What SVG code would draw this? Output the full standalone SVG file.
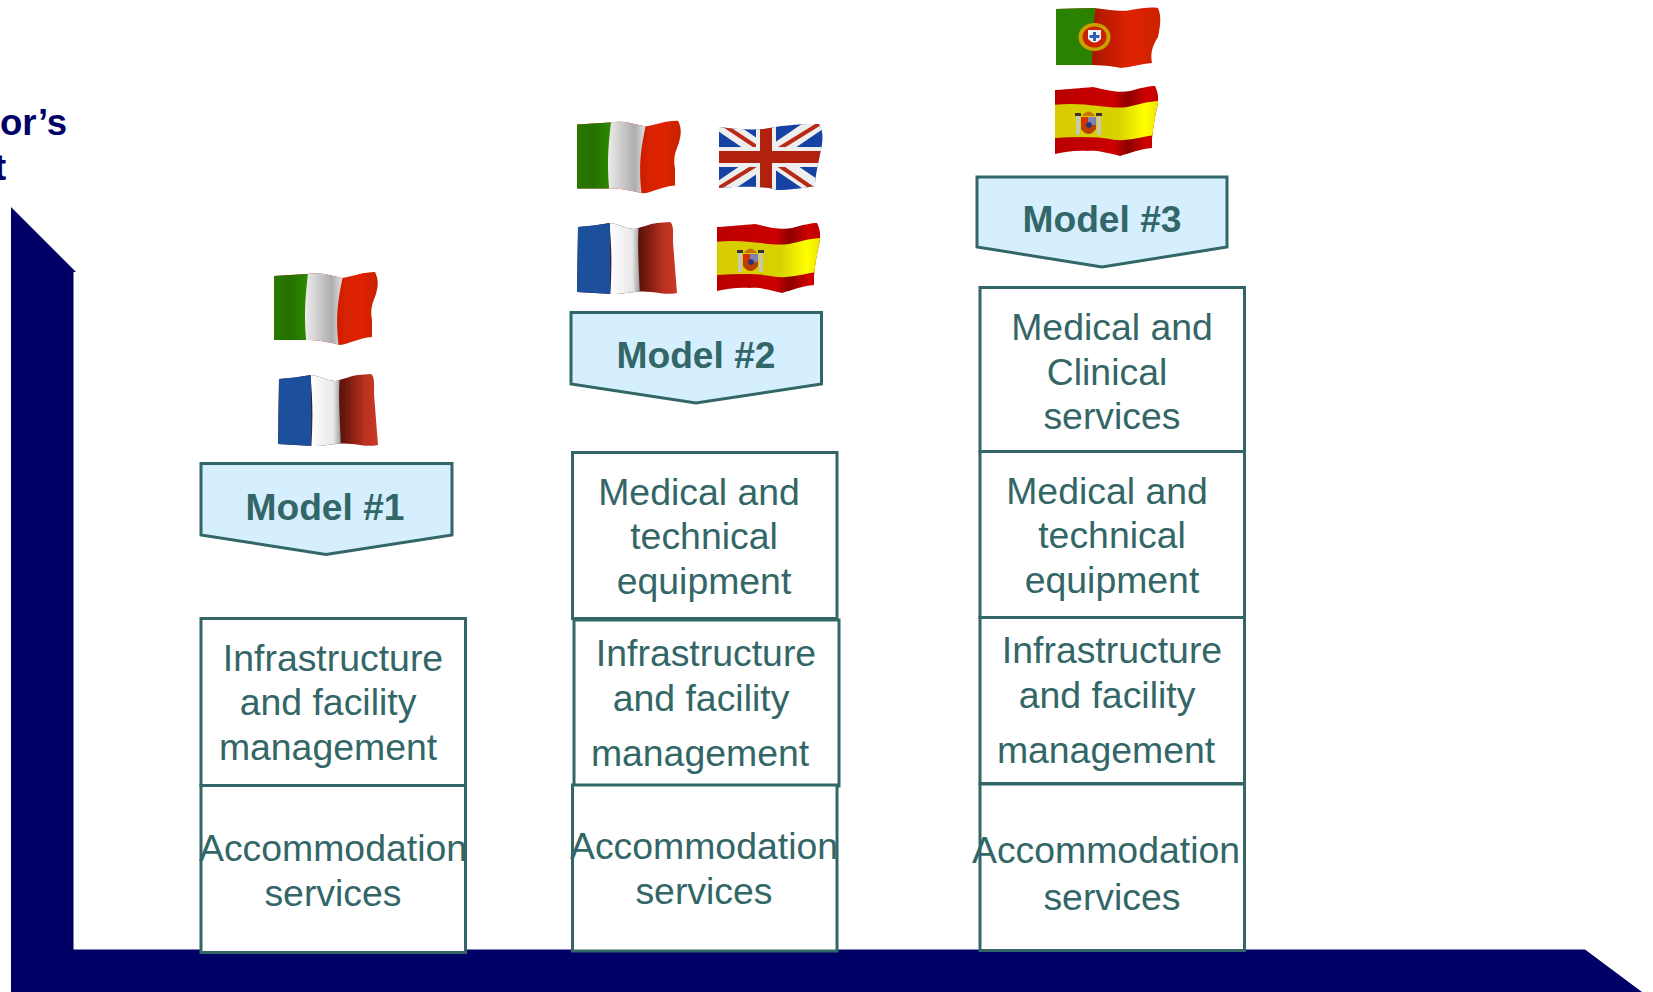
<svg xmlns="http://www.w3.org/2000/svg" width="1653" height="992" viewBox="0 0 1653 992">
<style>
text{font-family:"Liberation Sans",Arial,sans-serif}
.t{font-size:37.4px;fill:#336666;text-anchor:middle}
.m{font-size:37.2px;font-weight:bold;fill:#336666;text-anchor:middle}
.a{font-size:36.6px;font-weight:bold;fill:#000066}
.b{fill:#fff;stroke:#336666;stroke-width:3}
.p{fill:#D5EFFF;stroke:#336666;stroke-width:3}
</style>
<defs>
<filter id="soft" x="-5%" y="-5%" width="110%" height="110%"><feGaussianBlur stdDeviation="0.6"/></filter>
<linearGradient id="gG"><stop offset="0" stop-color="#2a7a00"/><stop offset=".5" stop-color="#257000"/><stop offset="1" stop-color="#2f8a00"/></linearGradient>
<linearGradient id="gW"><stop offset="0" stop-color="#f0f0f0"/><stop offset=".7" stop-color="#adadad"/><stop offset="1" stop-color="#e8e8e8"/></linearGradient>
<linearGradient id="gR"><stop offset=".6" stop-color="#d01f00"/><stop offset=".8" stop-color="#e02200"/><stop offset="1" stop-color="#c02000"/></linearGradient>
<linearGradient id="gFR"><stop offset=".55" stop-color="#4a1008"/><stop offset=".66" stop-color="#7a1c10"/><stop offset=".8" stop-color="#b83020"/><stop offset=".93" stop-color="#cc3a28"/><stop offset="1" stop-color="#a83020"/></linearGradient>
<linearGradient id="gFW"><stop offset="0" stop-color="#ffffff"/><stop offset=".75" stop-color="#e8e8e8"/><stop offset="1" stop-color="#999"/></linearGradient>
<linearGradient id="gY"><stop offset="0" stop-color="#d8cc00"/><stop offset=".6" stop-color="#d8d000"/><stop offset=".85" stop-color="#ffff00"/><stop offset="1" stop-color="#e8e000"/></linearGradient>
<linearGradient id="gER"><stop offset="0" stop-color="#b80404"/><stop offset=".55" stop-color="#cc0000"/><stop offset=".68" stop-color="#8c0202"/><stop offset=".85" stop-color="#d00000"/><stop offset="1" stop-color="#b80404"/></linearGradient>
<linearGradient id="gPR"><stop offset=".35" stop-color="#a81800"/><stop offset=".7" stop-color="#e02200"/><stop offset="1" stop-color="#c82000"/></linearGradient>
<clipPath id="cIt"><path d="M0 4L33 2C45 0 55 3 68 6C80 4 90 0 101 0C105 8 104 14 102 22C98 32 96 38 98 48L98 65C85 66 75 72 66 73C55 70 45 68 33 68L0 68Z"/></clipPath>
<clipPath id="cFr"><path d="M1 5C12 4 22 3 33 1C45 3 50 7 58 7C66 5 72 2 80 1L93 0C97 3 96 10 96 20L100 71C90 73 84 71 74 70C60 68 50 72 35 72L0 70Z"/></clipPath>
<clipPath id="cEs"><path d="M0 4C15 3 25 2 38 1C55 5 65 7 75 5C85 2 95 0 100 0C104 8 103 14 103 17C100 30 98 42 97 53L97 62C85 63 75 67 65 70C50 66 40 64 33 65C20 64 10 66 0 68Z"/></clipPath>
<clipPath id="cUk"><path d="M0 3C15 5 30 6 45 5C60 2 75 0 100 0C105 8 104 18 101 30C98 45 96 55 96 62C85 64 70 66 58 66C45 62 25 62 0 64Z"/></clipPath>
<clipPath id="cPt"><path d="M0 2L38 1C55 3 65 5 75 3C85 1 95 0 102 1C106 10 104 20 102 30C97 38 94 45 96 56C85 57 75 60 65 61C50 58 40 58 30 58L0 58Z"/></clipPath>
<g id="flag-it" filter="url(#soft)"><g clip-path="url(#cIt)"><rect x="-2" y="-2" width="110" height="78" fill="url(#gR)"/><path d="M34-2L70-2C66 20 60 40 65 76L32 76C28 50 28 30 34-2Z" fill="url(#gW)"/><path d="M-2-2L34-2C34 10 28 35 33 76L-2 76Z" fill="url(#gG)"/></g></g>
<g id="flag-fr" filter="url(#soft)"><g clip-path="url(#cFr)"><rect x="-2" y="-2" width="110" height="78" fill="url(#gFR)"/><path d="M32-2L62-2C60 25 62 45 63 76L33 76C35 50 35 25 32-2Z" fill="url(#gFW)"/><path d="M-2-2L33-2C33 20 34 50 33 76L-2 76Z" fill="#1F4F9C"/></g></g>
<g id="flag-es" filter="url(#soft)"><g clip-path="url(#cEs)"><rect x="-2" y="-2" width="110" height="78" fill="url(#gER)"/><path d="M-2 19C30 15 55 24 72 21C85 18 95 15 106 15L100 49C85 51 75 55 60 54C40 50 20 51-2 52Z" fill="url(#gY)"/><g transform="translate(21 23)"><rect x="0" y="6" width="4" height="20" fill="#c8c8b0"/><rect x="21" y="6" width="4" height="20" fill="#c8c8b0"/><rect x="-1" y="4" width="6" height="3" fill="#403020"/><rect x="20" y="4" width="6" height="3" fill="#403020"/><path d="M5 8H20V20Q12.500 30 5 20Z" fill="#B84000"/><rect x="12" y="8" width="8" height="8" fill="#8080b0"/><rect x="5" y="8" width="7" height="8" fill="#D03000"/><circle cx="13" cy="16" r="2.800" fill="#203080"/><path d="M6 7Q12.500-2 19 7Z" fill="#C87000"/></g></g></g>
<g id="flag-uk" filter="url(#soft)"><g clip-path="url(#cUk)"><rect x="-2" y="-2" width="110" height="78" fill="#1443A4"/><path d="M0-2L100 66M100-2L0 66" stroke="#eee" stroke-width="16"/><path d="M0-2L45 28M100 0L58 26M0 64L42 38M96 66L58 40" stroke="#B82A18" stroke-width="4"/><path d="M47-2V70M-2 33H106" stroke="#eee" stroke-width="20"/><path d="M47-2V70M-2 33H106" stroke="#B02010" stroke-width="12"/></g></g>
<g id="flag-pt" filter="url(#soft)"><g clip-path="url(#cPt)"><rect x="-2" y="-2" width="110" height="66" fill="url(#gPR)"/><path d="M-2-2L40-2C38 10 36 35 36 64L-2 64Z" fill="#2C8200"/><ellipse cx="38.500" cy="30" rx="16" ry="14" fill="#C8A000"/><ellipse cx="38.500" cy="30" rx="12" ry="10.500" fill="#C82000"/><path d="M32 23H45V32Q38.500 39 32 32Z" fill="#f4f4f4"/><rect x="37" y="25" width="3" height="9" fill="#3060B0"/><rect x="33.500" y="28" width="10" height="3" fill="#3060B0"/></g></g>
</defs>
<rect width="1653" height="992" fill="#fff"/>
<g id="axes"><path d="M11 207L76 272H73.500V949.500H1585L1642 992H11Z" fill="#000066"/></g>
<g id="axis-label"><text class="a" x="0" y="134.500">or’s</text><text class="a" x="-6" y="180">t</text></g>
<g id="model-1">
<use href="#flag-it" transform="translate(274 272)"/>
<use href="#flag-fr" transform="translate(278 374)"/>
<path class="p" d="M201 463.500H452V535L326 554.500L201 535Z"/>
<text class="m" x="325" y="520">Model #1</text>
</g>
<g id="model-2">
<use href="#flag-it" transform="translate(577 120.500)"/>
<use href="#flag-uk" transform="translate(719 124)"/>
<use href="#flag-fr" transform="translate(577 222)"/>
<use href="#flag-es" transform="translate(717 223)"/>
<path class="p" d="M571 312.500H821.500V384L696 403L571 384Z"/>
<text class="m" x="696" y="368">Model #2</text>
</g>
<g id="model-3">
<use href="#flag-pt" transform="translate(1056 7)"/>
<use href="#flag-es" transform="translate(1055 86)"/>
<path class="p" d="M977 177H1227V247L1102 267L977 247Z"/>
<text class="m" x="1102" y="232">Model #3</text>
</g>
<g id="s1-infra"><rect class="b" x="201" y="618.500" width="264.500" height="167"/><text class="t" x="333" y="671">Infrastructure</text><text class="t" x="328" y="715">and facility</text><text class="t" x="328" y="760">management</text></g>
<g id="s1-accom"><rect class="b" x="201" y="785.500" width="264.500" height="167"/><text class="t" x="333" y="861">Accommodation</text><text class="t" x="333" y="906">services</text></g>
<g id="s2-med"><rect class="b" x="572.500" y="452.500" width="264.500" height="166"/><text class="t" x="699" y="505">Medical and</text><text class="t" x="704" y="549">technical</text><text class="t" x="704" y="594">equipment</text></g>
<g id="s2-infra"><rect class="b" x="574" y="620" width="265" height="166"/><text class="t" x="706" y="666">Infrastructure</text><text class="t" x="701" y="711">and facility</text><text class="t" x="700" y="766">management</text></g>
<g id="s2-accom"><rect class="b" x="572.500" y="785" width="264.500" height="166"/><text class="t" x="704" y="859">Accommodation</text><text class="t" x="704" y="904">services</text></g>
<g id="s3-clin"><rect class="b" x="980" y="287.500" width="264.500" height="164"/><text class="t" x="1112" y="340">Medical and</text><text class="t" x="1107" y="385">Clinical</text><text class="t" x="1112" y="429">services</text></g>
<g id="s3-med"><rect class="b" x="980" y="451.500" width="264.500" height="166"/><text class="t" x="1107" y="504">Medical and</text><text class="t" x="1112" y="548">technical</text><text class="t" x="1112" y="593">equipment</text></g>
<g id="s3-infra"><rect class="b" x="980" y="617.500" width="264.500" height="166"/><text class="t" x="1112" y="663">Infrastructure</text><text class="t" x="1107" y="708">and facility</text><text class="t" x="1106" y="763">management</text></g>
<g id="s3-accom"><rect class="b" x="980" y="784" width="264.500" height="166.500"/><text class="t" x="1106" y="863">Accommodation</text><text class="t" x="1112" y="910">services</text></g>
</svg>
